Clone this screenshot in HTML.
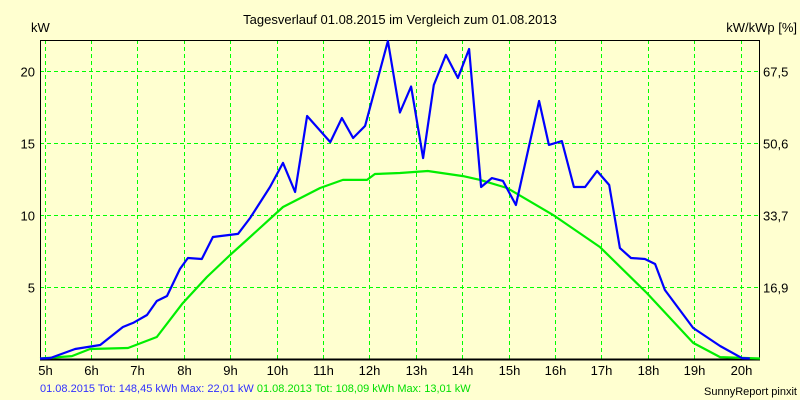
<!DOCTYPE html>
<html><head><meta charset="utf-8"><style>
html,body{margin:0;padding:0;background:#ffffd0;}
svg{display:block;font-family:"Liberation Sans",Arial,sans-serif;}
</style></head><body>
<svg id="chart" width="800" height="400" viewBox="0 0 800 400">
<rect x="0" y="0" width="800" height="400" fill="#ffffd0"/>
<text x="400" y="24" text-anchor="middle" font-size="13" fill="#000">Tagesverlauf 01.08.2015 im Vergleich zum 01.08.2013</text>
<text x="31" y="32" font-size="13" fill="#000">kW</text>
<text x="797" y="32" text-anchor="end" font-size="13" fill="#000">kW/kWp [%]</text>
<g id="grid"></g>
<g id="axes"></g>
<g id="series"></g>
<text x="40" y="392" font-size="11"><tspan fill="#3030ff">01.08.2015 Tot: 148,45 kWh Max: 22,01 kW</tspan><tspan fill="#00e000"> 01.08.2013 Tot: 108,09 kWh Max: 13,01 kW</tspan></text>
<text x="797" y="395" text-anchor="end" font-size="11" fill="#000">SunnyReport pinxit</text>
</svg>
<script>
const hourTicks = [5,6,7,8,9,10,11,12,13,14,15,16,17,18,19,20];
const kwTicks = [5,10,15,20];
const pctLabels = ["16,9","33,7","50,6","67,5"];
const hours2015 = [4.9,5.12,5.66,6.2,6.69,6.91,7.21,7.42,7.64,7.92,8.09,8.39,8.63,9.17,9.43,9.86,10.14,10.4,10.66,11.16,11.41,11.65,11.91,12.4,12.66,12.9,13.16,13.39,13.65,13.91,14.15,14.41,14.64,14.88,15.16,15.66,15.87,16.15,16.41,16.65,16.91,17.17,17.4,17.64,17.94,18.16,18.37,18.98,19.56,20.03,20.2];
const kw2015 = [0,0.03,0.66,0.94,2.19,2.47,3.02,3.99,4.34,6.22,6.98,6.91,8.44,8.65,9.76,11.91,13.58,11.56,16.84,15.03,16.7,15.31,16.15,22.05,17.08,18.89,13.92,18.99,21.08,19.48,21.49,11.91,12.53,12.33,10.66,17.88,14.83,15.1,11.91,11.91,13.02,12.05,7.67,6.98,6.91,6.56,4.76,2.12,0.87,0.03,0];
const hours2013 = [4.9,5.59,5.98,6.8,7.42,7.98,8.5,9.0,9.36,10.14,10.94,11.43,11.95,12.12,12.66,13.26,14.02,14.39,14.97,15.96,16.97,17.98,18.98,19.56,20.42];
const kw2013 = [0,0.17,0.66,0.73,1.49,3.85,5.66,7.19,8.23,10.52,11.84,12.4,12.4,12.81,12.88,13.02,12.67,12.4,11.84,9.97,7.74,4.55,1.08,0.1,0];

const L=40,R=759,T=40,B=359;
function xOf(h){return 44.5+(h-5)*46.4;}
function yOf(v){return 358.5-v*14.4;}
const NS="http://www.w3.org/2000/svg";
function mk(tag,attrs,parent){const e=document.createElementNS(NS,tag);for(const k in attrs)e.setAttribute(k,attrs[k]);parent.appendChild(e);return e;}
const grid=document.getElementById('grid'), axes=document.getElementById('axes'), series=document.getElementById('series');

hourTicks.forEach(h=>{
  const x=Math.round(xOf(h))+0.5;
  const g=mk('line',{x1:x,x2:x,y1:T,y2:B,stroke:'#00ff00','stroke-dasharray':'4,3','stroke-width':1},grid);
  
  
  const t=mk('text',{x:x,y:375,'text-anchor':'middle','font-size':13,fill:'#000'},axes);
  t.textContent=h+'h';
  
  
});
kwTicks.forEach((v,i)=>{
  const y=Math.round(yOf(v))+0.5;
  const g=mk('line',{x1:L,x2:R,y1:y,y2:y,stroke:'#00ff00','stroke-dasharray':'4,3','stroke-width':1},grid);
  
  
  const t=mk('text',{x:35,y:y+5,'text-anchor':'end','font-size':13,fill:'#000'},axes);
  t.textContent=String(v);
  
  
  const t2=mk('text',{x:763,y:y+5,'font-size':13,fill:'#000'},axes);
  t2.textContent=pctLabels[i];
  
  
});
const frame=mk('path',{d:`M${L+0.5},${B} L${L+0.5},${T+0.5} L${R+0.5},${T+0.5} L${R+0.5},${B}`,fill:'none',stroke:'#000','stroke-width':1},axes);


const xaxis=mk('line',{x1:L,x2:R+1,y1:B+0.5,y2:B+0.5,stroke:'#000','stroke-width':2},axes);



function pts(hs,vs){return hs.map((h,i)=>Math.max(L,xOf(h)).toFixed(1)+','+yOf(vs[i]).toFixed(1)).join(' ');}
const g13=mk('polyline',{points:pts(hours2013,kw2013),fill:'none',stroke:'#00ee00','stroke-width':2.2,'stroke-linejoin':'round'},series);


const b15=mk('polyline',{points:pts(hours2015,kw2015),fill:'none',stroke:'#0000ff','stroke-width':2.2,'stroke-linejoin':'round'},series);


</script>
</body></html>
